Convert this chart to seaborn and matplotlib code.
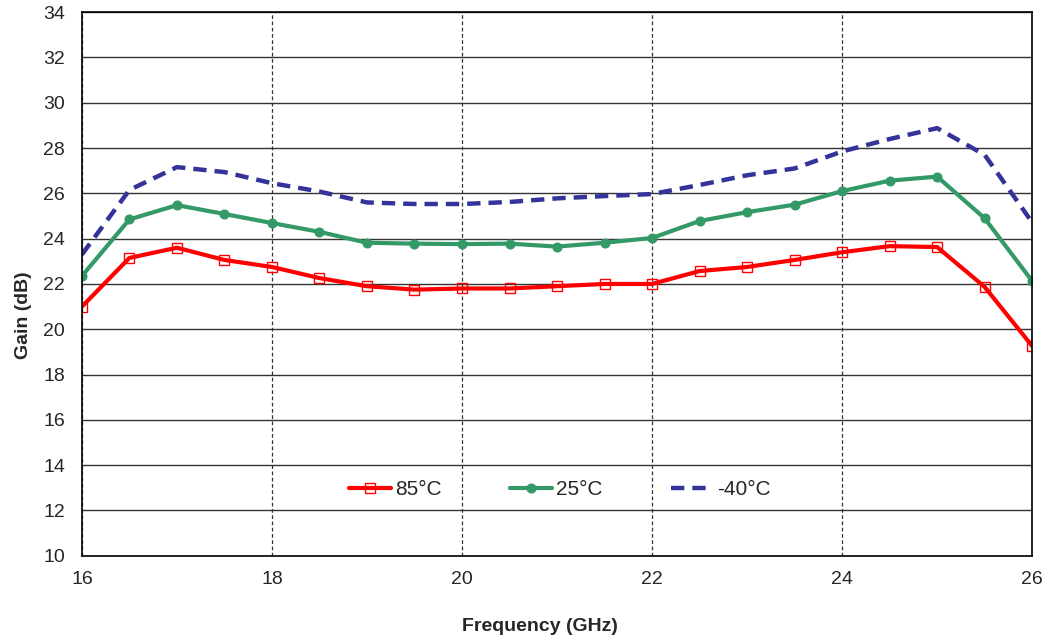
import numpy as np
import pandas as pd
import matplotlib
matplotlib.use("Agg")
import matplotlib.pyplot as plt
import seaborn as sns

# Data
freq = [16, 16.5, 17, 17.5, 18, 18.5, 19, 19.5, 20, 20.5, 21,
        21.5, 22, 22.5, 23, 23.5, 24, 24.5, 25, 25.5, 26]
gain_85 = [21.0, 23.15, 23.6, 23.06, 22.75, 22.26, 21.9, 21.75, 21.8, 21.8, 21.9,
           22.0, 22.0, 22.57, 22.75, 23.06, 23.4, 23.67, 23.63, 21.87, 19.26]
gain_25 = [22.35, 24.85, 25.48, 25.09, 24.69, 24.3, 23.82, 23.78, 23.76, 23.78, 23.65,
           23.82, 24.03, 24.78, 25.17, 25.5, 26.1, 26.56, 26.74, 24.9, 22.13]
gain_m40 = [23.3, 26.15, 27.16, 26.94, 26.45, 26.08, 25.6, 25.53, 25.53, 25.62, 25.78,
            25.88, 25.97, 26.37, 26.8, 27.1, 27.85, 28.4, 28.88, 27.7, 24.72]

df = pd.DataFrame({"freq": freq, "85": gain_85, "25": gain_25, "m40": gain_m40})

sns.set_style("white")
plt.rcParams["font.family"] = ["Liberation Sans", "DejaVu Sans"]

fig, ax = plt.subplots(figsize=(10.5, 6.41), dpi=100)
fig.subplots_adjust(left=0.078, right=0.983, bottom=0.133, top=0.981)

sns.lineplot(data=df, x="freq", y="85", ax=ax, color="#FF0000", linewidth=3,
             marker="s", markersize=7, markerfacecolor="none",
             markeredgecolor="#FF0000", markeredgewidth=1, label="85°C")
sns.lineplot(data=df, x="freq", y="25", ax=ax, color="#339966", linewidth=3,
             marker="o", markersize=6.5, markeredgecolor="#339966", label="25°C")
sns.lineplot(data=df, x="freq", y="m40", ax=ax, color="#333399", linewidth=3.2,
             linestyle=(0, (3, 1.8)), label="-40°C")

ax.set_xlim(16, 26)
ax.set_ylim(10, 34)
ax.set_xticks(range(16, 27, 2))
ax.set_yticks(range(10, 35, 2))
ax.tick_params(axis="y", labelsize=14, length=0, pad=12)
ax.tick_params(axis="x", labelsize=14, length=0, pad=11)

ax.yaxis.grid(True, color="#333333", linewidth=1, linestyle="-")
ax.xaxis.grid(True, color="#333333", linewidth=0.9, linestyle=(0, (3, 2)))
ax.set_axisbelow(True)
for s in ax.spines.values():
    s.set_visible(True)
    s.set_color("black")
    s.set_linewidth(1.2)

ax.set_xlabel("Frequency (GHz)", fontsize=14, fontweight="bold")
ax.set_ylabel("Gain (dB)", fontsize=14, fontweight="bold")
ax.xaxis.set_label_coords(0.482, -0.115)
ax.yaxis.set_label_coords(-0.053, 0.443)

ax.legend(loc="center", bbox_to_anchor=(0.503, 0.121), ncol=3, frameon=False,
          fontsize=15, handlelength=2.0, columnspacing=3.3, handletextpad=0.2)

fig.savefig("out.png", dpi=100)
